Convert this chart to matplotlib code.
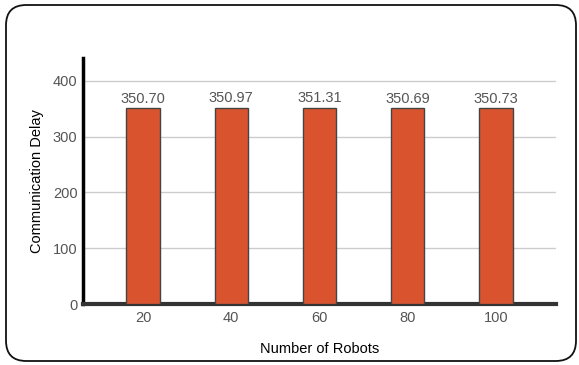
import matplotlib
matplotlib.use("Agg")
import matplotlib.pyplot as plt
from matplotlib.patches import FancyBboxPatch

robots = ["20", "40", "60", "80", "100"]
delay = [350.70, 350.97, 351.31, 350.69, 350.73]
yticks = [0, 100, 200, 300, 400]

plt.rcParams['font.family'] = ['Liberation Sans', 'DejaVu Sans']

fig = plt.figure(figsize=(5.79, 3.65), dpi=100)
ax = fig.add_axes([83 / 579, 1 - 304 / 365, (556 - 83) / 579, (304 - 58) / 365])

# outer rounded frame
frame = FancyBboxPatch((6 / 579, 4 / 365), 570 / 579, 356 / 365,
                       boxstyle="round,pad=0,rounding_size=0.035",
                       transform=fig.transFigure, fill=False,
                       edgecolor='#111111', linewidth=1.3, mutation_aspect=579 / 365)
fig.patches.append(frame)

x = range(len(robots))
bars = ax.bar(x, delay, width=0.375, color='#D9532F', edgecolor='#444444',
              linewidth=1.0, zorder=3)
for xi, v in zip(x, delay):
    ax.text(xi, v + 5, f"{v:.2f}", ha='center', va='bottom',
            fontsize=10.5, color='#555555', zorder=4)

ax.set_xlim(-0.68, 4.68)
ax.set_ylim(0, 441)
ax.set_xticks(list(x))
ax.set_xticklabels(robots)
ax.set_yticks(yticks)
ax.grid(axis='y', color='#cccccc', linewidth=1.0, zorder=0)
ax.tick_params(axis='both', length=0, labelsize=10.5, labelcolor='#555555')
ax.tick_params(axis='x', pad=5)
ax.tick_params(axis='y', pad=4)

for s in ['top', 'right']:
    ax.spines[s].set_visible(False)
ax.spines['left'].set_linewidth(2.5)
ax.spines['left'].set_color('black')
ax.spines['bottom'].set_linewidth(3)
ax.spines['bottom'].set_color('#333333')

ax.set_xlabel("Number of Robots", fontsize=10.5, labelpad=12)
ax.set_ylabel("Communication Delay", fontsize=10.5, labelpad=6)

fig.savefig("out.png", dpi=100)
